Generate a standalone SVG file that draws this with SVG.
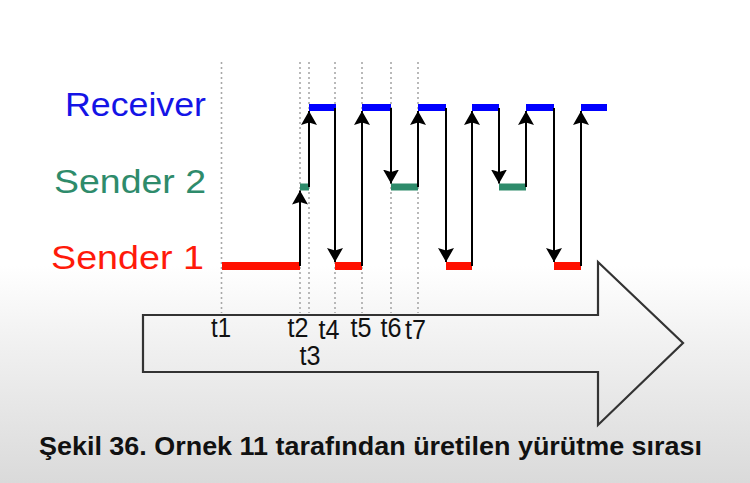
<svg xmlns="http://www.w3.org/2000/svg" width="750" height="483" viewBox="0 0 750 483">
<defs>
<linearGradient id="bg" x1="0" y1="0" x2="0" y2="1">
<stop offset="0" stop-color="#ffffff"/>
<stop offset="0.55" stop-color="#ffffff"/>
<stop offset="0.72" stop-color="#f0f0f0"/>
<stop offset="1" stop-color="#dadada"/>
</linearGradient>
<marker id="ah" markerUnits="userSpaceOnUse" markerWidth="15" markerHeight="16" refX="14" refY="8" orient="auto" viewBox="0 0 15 16">
<path d="M0,0 L14,8 L0,16 L2.5,8 z" fill="#000"/>
</marker>
<style>
.lbl{font-family:"Liberation Sans",Arial,sans-serif;font-size:33px;text-anchor:end}
.t{font-family:"Liberation Sans",Arial,sans-serif;font-size:27px;fill:#111;text-anchor:middle}
.dot{stroke:#a8a8a8;stroke-width:1.6;stroke-dasharray:2 3;fill:none}
.rb{stroke:#0000ff;stroke-width:7;fill:none}
.gb{stroke:#2e8b6b;stroke-width:7;fill:none}
.sb{stroke:#ff1000;stroke-width:8;fill:none}
.ar{stroke:#000;stroke-width:2;fill:none;marker-end:url(#ah)}
</style>
</defs>
<rect x="0" y="0" width="750" height="483" fill="url(#bg)"/>

<g id="timeline-arrow">
<path d="M143,315 L598,315 L598,262 L683,343 L598,425 L598,372 L143,372 Z" fill="none" stroke="#333" stroke-width="2.2" stroke-linejoin="miter"/>
</g>

<g id="gridlines">
<line class="dot" x1="221.5" y1="62" x2="221.5" y2="313"/>
<line class="dot" x1="300" y1="62" x2="300" y2="313"/>
<line class="dot" x1="309" y1="62" x2="309" y2="313"/>
<line class="dot" x1="335" y1="62" x2="335" y2="313"/>
<line class="dot" x1="362" y1="62" x2="362" y2="313"/>
<line class="dot" x1="391" y1="62" x2="391" y2="313"/>
<line class="dot" x1="418" y1="62" x2="418" y2="313"/>
</g>

<g id="receiver">
<text class="lbl" x="206" y="116" fill="#1414e6" textLength="141" lengthAdjust="spacingAndGlyphs">Receiver</text>
<path class="rb" d="M309,107.5 H336 M362,107.5 H391 M418,107.5 H446 M472,107.5 H499 M526,107.5 H554 M581,107.5 H607"/>
</g>

<g id="sender2">
<text class="lbl" x="206" y="193" fill="#2e8b6b" textLength="152" lengthAdjust="spacingAndGlyphs">Sender 2</text>
<path class="gb" d="M300,187 H309 M391,187 H418 M499,187 H526"/>
</g>

<g id="sender1">
<text class="lbl" x="204" y="269" fill="#ff1a0a" textLength="153" lengthAdjust="spacingAndGlyphs">Sender 1</text>
<path class="sb" d="M222,266 H300 M335,266 H362 M446,266 H472 M554,266 H581"/>
</g>

<g id="connectors">
<line class="ar" x1="300" y1="266" x2="300" y2="190.5"/>
<line class="ar" x1="309" y1="187" x2="309" y2="111"/>
<line class="ar" x1="335" y1="108" x2="335" y2="262"/>
<line class="ar" x1="362" y1="266" x2="362" y2="111"/>
<line class="ar" x1="391" y1="108" x2="391" y2="183.5"/>
<line class="ar" x1="418" y1="187" x2="418" y2="111"/>
<line class="ar" x1="446" y1="108" x2="446" y2="262"/>
<line class="ar" x1="472" y1="266" x2="472" y2="111"/>
<line class="ar" x1="499" y1="108" x2="499" y2="183.5"/>
<line class="ar" x1="526" y1="187" x2="526" y2="111"/>
<line class="ar" x1="554" y1="108" x2="554" y2="262"/>
<line class="ar" x1="581" y1="266" x2="581" y2="111"/>
</g>

<g id="time-labels">
<text class="t" x="221" y="337" textLength="20" lengthAdjust="spacingAndGlyphs">t1</text>
<text class="t" x="298" y="337" textLength="21" lengthAdjust="spacingAndGlyphs">t2</text>
<text class="t" x="310" y="365" textLength="21" lengthAdjust="spacingAndGlyphs">t3</text>
<text class="t" x="329" y="339" textLength="21" lengthAdjust="spacingAndGlyphs">t4</text>
<text class="t" x="361" y="337" textLength="21" lengthAdjust="spacingAndGlyphs">t5</text>
<text class="t" x="391" y="337" textLength="21" lengthAdjust="spacingAndGlyphs">t6</text>
<text class="t" x="415.5" y="339" textLength="21" lengthAdjust="spacingAndGlyphs">t7</text>
</g>

<g id="caption">
<text x="39" y="455" font-family="'Liberation Sans',Arial,sans-serif" font-size="25" font-weight="bold" fill="#111" textLength="663" lengthAdjust="spacingAndGlyphs">Şekil 36. Ornek 11 tarafından üretilen yürütme sırası</text>
</g>
</svg>
